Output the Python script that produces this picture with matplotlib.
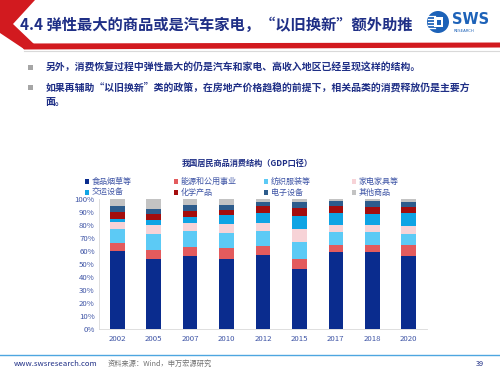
import matplotlib
matplotlib.use("Agg")
import matplotlib.pyplot as plt
import numpy as np
from matplotlib.patches import Polygon, Circle, Rectangle

plt.rcParams["font.family"] = ["Noto Sans CJK SC", "DejaVu Sans"]

# ---- data (share of goods consumption, %) ----
years = ["2002", "2005", "2007", "2010", "2012", "2015", "2017", "2018", "2020"]
food = [60.0, 54.0, 55.8, 53.7, 56.8, 46.3, 58.9, 58.9, 56.0]
energy = [6.0, 6.7, 7.4, 8.5, 7.2, 7.9, 5.9, 5.9, 9.0]
textile = [11.0, 12.3, 12.4, 11.6, 11.3, 12.4, 9.8, 9.8, 8.3]
appliance = [5.5, 7.2, 5.9, 6.9, 6.2, 10.3, 5.4, 5.1, 5.6]
transport = [2.5, 3.8, 4.6, 6.7, 7.4, 9.7, 8.9, 9.0, 10.0]
chemical = [4.7, 4.4, 4.6, 3.9, 5.4, 6.7, 5.4, 5.4, 5.2]
electronic = [4.6, 4.1, 4.7, 3.8, 3.6, 4.4, 3.9, 4.1, 3.8]
other = [5.7, 7.5, 4.6, 4.9, 2.1, 2.3, 1.8, 1.8, 2.1]

series_names = ["食品烟草等", "能源和公用事业", "纺织服装等", "家电家具等",
                "交运设备", "化学产品", "电子设备", "其他商品"]
series_vals = [food, energy, textile, appliance, transport, chemical, electronic, other]
colors = ["#0A2C8E", "#E35B5D", "#5CCAF5", "#F7D3D7",
          "#0FA4E4", "#A40D0D", "#2D5C8C", "#C3C3C3"]

navy = "#1F2F86"
tick_col = "#3F55A6"

fig = plt.figure(figsize=(5, 3.73), dpi=100)

# background layer in pixel coordinates
bg = fig.add_axes([0, 0, 1, 1], zorder=0)
bg.set_xlim(0, 500)
bg.set_ylim(373, 0)
bg.axis("off")

# red chevron + red rule under the title
bg.add_patch(Polygon([(0, 0), (35, 0), (13, 24), (35, 45), (24, 49), (0, 33)],
                     closed=True, color="#D21A1F", lw=0))
bg.add_patch(Polygon([(20, 43.5), (500, 42.5), (500, 47.5), (24, 49.5)],
                     closed=True, color="#D21A1F", lw=0))
bg.plot([24, 500], [50.5, 50.5], color="#D9D9D9", lw=0.8)

bg.text(20, 25, "4.4 弹性最大的商品或是汽车家电，“以旧换新”额外助推",
        color=navy, fontsize=11, fontweight="bold", va="center", ha="left")

# logo
bg.add_patch(Circle((438, 22), 11, color="#1D62B8", lw=0))
for yy in [15.5, 18.5, 21.5, 24.5, 27.5]:
    bg.plot([428, 435], [yy, yy], color="white", lw=0.9)
bg.add_patch(Rectangle((434, 17), 9, 10, facecolor="white", edgecolor="none"))
bg.add_patch(Rectangle((436.5, 19.5), 4, 5, facecolor="#1D62B8", edgecolor="none"))
bg.text(452, 20, "SWS", color="#1D62B8", fontsize=10.5, fontweight="bold",
        family="DejaVu Sans", va="center", ha="left")
bg.text(454, 30.5, "RESEARCH", color="#1D62B8", fontsize=2.8,
        family="DejaVu Sans", va="center", ha="left")

# bullets
bullets = [
    (67.5, "另外，消费恢复过程中弹性最大的仍是汽车和家电、高收入地区已经呈现这样的结构。"),
    (87.5, "如果再辅助“以旧换新”类的政策，在房地产价格趋稳的前提下，相关品类的消费释放仍是主要方"),
]
for yy, txt in bullets:
    bg.add_patch(Rectangle((28, yy - 2.5), 5, 5, facecolor="#A6A6A6", edgecolor="none"))
    bg.text(46, yy, txt, color=navy, fontsize=7.1, fontweight="bold", va="center", ha="left")
bg.text(46, 101.5, "面。", color=navy, fontsize=7.1, fontweight="bold", va="center", ha="left")

# chart title
bg.text(247, 163, "我国居民商品消费结构（GDP口径）", color=navy, fontsize=5.9,
        fontweight="bold", va="center", ha="center")

# footer
bg.plot([0, 500], [355, 355], color="#4DA6E0", lw=1.0)
bg.text(14, 364, "www.swsresearch.com", color=navy, fontsize=5.6, va="center", ha="left")
bg.text(108, 364, "资料来源：Wind，申万宏源研究", color="#707070", fontsize=5.2,
        va="center", ha="left")
bg.text(476, 364, "39", color=navy, fontsize=5.2, va="center", ha="left")

# ---- stacked bar chart ----
ax = fig.add_axes([99 / 500, 44 / 373, 328 / 500, 130 / 373], zorder=1)
x = np.arange(len(years))
bottom = np.zeros(len(years))
handles = []
for name, vals, col in zip(series_names, series_vals, colors):
    v = np.array(vals) / 100.0
    b = ax.bar(x, v, width=0.4, bottom=bottom, color=col, label=name, lw=0)
    handles.append(b)
    bottom += v

ax.set_xlim(-0.5, len(years) - 0.5)
ax.set_ylim(0, 1.0)
ax.set_yticks(np.arange(0, 1.01, 0.1))
ax.set_yticklabels([f"{int(round(t * 100))}%" for t in np.arange(0, 1.01, 0.1)])
ax.set_xticks(x)
ax.set_xticklabels(years)
ax.tick_params(axis="both", labelsize=5.6, colors=tick_col, length=0, pad=3)
ax.tick_params(axis="x", pad=4)
for s in ["top", "right"]:
    ax.spines[s].set_visible(False)
for s in ["left", "bottom"]:
    ax.spines[s].set_color("#D9D9D9")
    ax.spines[s].set_linewidth(0.6)
ax.patch.set_alpha(0)

# legend: 4 columns with equal start spacing, 2 rows
col_x = [85, 174, 264, 352]
for i, cx in enumerate(col_x):
    hs = [handles[i], handles[i + 4]]
    ls = [series_names[i], series_names[i + 4]]
    leg = fig.legend(hs, ls, loc="upper left", bbox_to_anchor=(cx / 500, 1 - 177 / 373),
                     frameon=False, fontsize=5.8, handlelength=0.55, handleheight=0.55,
                     handletextpad=0.3, labelspacing=0.25, borderaxespad=0, borderpad=0)
    for t in leg.get_texts():
        t.set_color(tick_col)

fig.savefig("out.png", dpi=100)
